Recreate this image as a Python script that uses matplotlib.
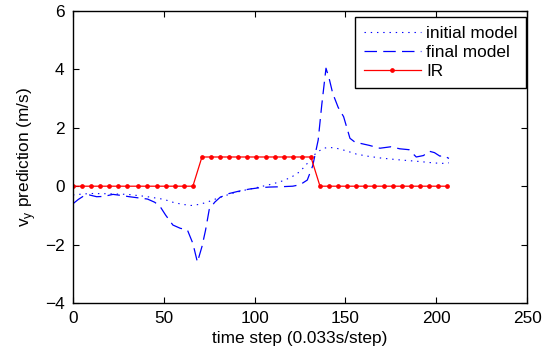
import matplotlib
matplotlib.use('Agg')
import matplotlib.pyplot as plt

# IR ground truth (sampled at the IR rate)
ir_t = [0, 5, 10, 15, 20, 25, 30, 36, 41, 46, 51, 56, 61, 66,
        71, 76, 81, 86, 91, 96, 101, 106, 111, 116, 121, 126, 131,
        136, 141, 146, 151, 156, 161, 166, 171, 176, 181, 186, 191, 196, 201, 206]
ir_v = [0] * 14 + [1] * 13 + [0] * 15

# initial model prediction
init_t = [0, 5, 10, 20, 30, 40, 50, 55, 60, 65, 70, 75, 81, 88, 95, 101, 108, 114,
          120, 125, 130, 134, 138, 141, 145, 150, 156, 162, 170, 180, 190, 198, 203, 207]
init_v = [-0.30, -0.27, -0.25, -0.26, -0.28, -0.35, -0.45, -0.55, -0.62, -0.66, -0.62,
          -0.52, -0.38, -0.24, -0.13, -0.05, 0.05, 0.15, 0.30, 0.50, 0.85, 1.15, 1.30,
          1.33, 1.30, 1.22, 1.10, 1.03, 0.96, 0.90, 0.85, 0.80, 0.78, 0.80]

# final model prediction
final_t = [0, 3, 6, 9, 13, 17, 22, 27, 31, 36, 41, 45, 48, 51, 55, 59, 63, 66, 68.5,
           71, 73, 75, 78, 81, 86, 92, 97, 103, 108, 114, 121, 125, 129, 132, 135, 137,
           139.3, 141, 143, 146, 149, 152.5, 155, 158, 163, 169, 175, 180, 185, 189,
           193, 196, 199, 202, 204, 207]
final_v = [-0.60, -0.45, -0.33, -0.30, -0.36, -0.35, -0.28, -0.32, -0.36, -0.40, -0.44,
           -0.55, -0.70, -0.99, -1.33, -1.44, -1.50, -1.96, -2.60, -2.07, -1.50, -0.80,
           -0.55, -0.38, -0.25, -0.16, -0.10, -0.05, -0.03, -0.02, 0.00, 0.05, 0.21,
           0.70, 1.58, 2.80, 4.04, 3.70, 3.18, 2.70, 2.38, 1.64, 1.52, 1.47, 1.40, 1.30,
           1.35, 1.28, 1.25, 1.00, 1.05, 1.20, 1.15, 1.03, 1.05, 0.95]

plt.rcParams['font.family'] = ['Liberation Sans', 'DejaVu Sans']
plt.rcParams['font.size'] = 12.4
plt.rcParams['lines.scale_dashes'] = False

fig = plt.figure(figsize=(5.51, 3.52), dpi=100)
ax = fig.add_axes([0.1325, 0.1392, 0.824, 0.8296])

ax.plot(init_t, init_v, color='blue', linestyle=(0, (1, 3.5)), linewidth=0.8, label='initial model')
ax.plot(final_t, final_v, color='blue', linestyle=(0, (9, 4.5)), linewidth=0.9, label='final model')
ax.plot(ir_t, ir_v, color='red', linewidth=0.9, marker='o', markersize=2.4, label='IR')

ax.set_xlim(0, 250)
ax.set_ylim(-4, 6)
ax.set_xticks([0, 50, 100, 150, 200, 250])
ax.set_yticks([-4, -2, 0, 2, 4, 6])
ax.tick_params(direction='in', top=True, right=True, length=4, width=0.8)
ax.tick_params(axis='x', pad=6)
ax.tick_params(axis='y', pad=6)
for s in ax.spines.values():
    s.set_linewidth(1.0)

ax.set_xlabel('time step (0.033s/step)', labelpad=3)
ax.set_ylabel('v$_\\mathregular{y}$ prediction (m/s)', labelpad=5)

leg = ax.legend(loc='upper right', bbox_to_anchor=(526 / 551, 1 - 17 / 352),
                bbox_transform=fig.transFigure, fancybox=False, edgecolor='black',
                framealpha=1, handlelength=3.3, borderpad=0.5, labelspacing=0.25,
                handletextpad=0.3, borderaxespad=0)
leg.get_frame().set_linewidth(1.0)

fig.savefig('out.png', dpi=100)
